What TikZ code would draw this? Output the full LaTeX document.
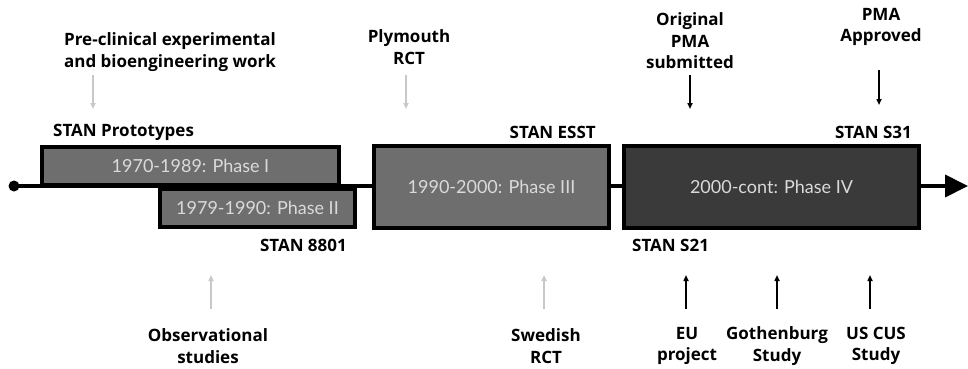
\documentclass[tikz,border=0pt]{standalone}
\usepackage{fontspec}
\setmainfont{Lato}
\newfontfamily\lblfont{Open Sans}
\usetikzlibrary{arrows.meta}
\definecolor{lightarr}{HTML}{C8C8C8}
\definecolor{phasegray}{HTML}{6E6E6E}
\definecolor{phasedark}{HTML}{3A3A3A}
\definecolor{phasetext}{HTML}{DADADA}
\tikzset{
  lbl/.style={font=\lblfont\bfseries\fontsize{17}{21.5}\selectfont, align=center, inner sep=0pt, text=black},
  phasebox/.style={draw=black, line width=4pt, fill=phasegray, inner sep=0pt, text=phasetext, font=\fontsize{18}{20}\selectfont},
  lightarrow/.style={draw=lightarr, line width=1.5pt, -{Triangle[length=6pt,width=5pt]}},
  darkarrow/.style={draw=black, line width=1.5pt, -{Triangle[length=6pt,width=5pt]}},
}
\begin{document}
\begin{tikzpicture}[x=1pt,y=-1pt]
\useasboundingbox (0,0) rectangle (968,369);
% timeline
\coordinate (tstart) at (14,186);
\coordinate (tend) at (968,186);
\draw[line width=4pt, -{Triangle[length=23pt,width=22pt]}] (tstart) -- (tend);
\fill (tstart) circle (5.5);
% boxes
\node[phasebox, minimum width=297pt, minimum height=38pt] (p1) at (190.5,165.5) {1970-1989: Phase I};
\node[phasebox, minimum width=195pt, minimum height=38pt] (p2) at (257.5,208) {1979-1990: Phase II};
\node[phasebox, minimum width=235pt, minimum height=82pt] (p3) at (491.5,187) {1990-2000: Phase III};
\node[phasebox, fill=phasedark, minimum width=295pt, minimum height=82pt] (p4) at (771.5,187) {2000-cont: Phase IV};
% box labels
\node[lbl, anchor=west] (lproto) at (53,132) {STAN Prototypes};
\node[lbl, anchor=east] (lesst) at (596,132) {STAN ESST};
\node[lbl, anchor=east] (ls31) at (912,132) {STAN S31};
\node[lbl, anchor=east] (l8801) at (347,245) {STAN 8801};
\node[lbl, anchor=west] (ls21) at (632,245) {STAN S21};
% top labels
\node[lbl] (tpre) at (170,52) {Pre-clinical experimental\\and bioengineering work};
\node[lbl] (tply) at (409,47) {Plymouth\\RCT};
\node[lbl] (tpma) at (690,41) {Original\\PMA\\submitted};
\node[lbl] (tapp) at (881,27) {PMA\\Approved};
\coordinate (apre1) at (93,75); \coordinate (apre2) at (93,109);
\coordinate (aply1) at (406,75); \coordinate (aply2) at (406,109);
\coordinate (apma1) at (690,75); \coordinate (apma2) at (690,109);
\coordinate (aapp1) at (879,70); \coordinate (aapp2) at (879,105);
\draw[lightarrow] (apre1) -- (apre2);
\draw[lightarrow] (aply1) -- (aply2);
\draw[darkarrow] (apma1) -- (apma2);
\draw[darkarrow] (aapp1) -- (aapp2);
% bottom labels
\node[lbl] (bobs) at (208,346) {Observational\\studies};
\node[lbl] (bswe) at (546,346) {Swedish\\RCT};
\node[lbl] (beu) at (687,346) {EU\\project};
\node[lbl] (bgot) at (777,346) {Gothenburg\\Study};
\node[lbl] (bus) at (876,346) {US CUS\\Study};
\coordinate (aobs1) at (211,309); \coordinate (aobs2) at (211,275);
\coordinate (aswe1) at (544,309); \coordinate (aswe2) at (544,275);
\coordinate (aeu1) at (686,309); \coordinate (aeu2) at (686,275);
\coordinate (agot1) at (777,309); \coordinate (agot2) at (777,275);
\coordinate (aus1) at (870,309); \coordinate (aus2) at (870,275);
\draw[lightarrow] (aobs1) -- (aobs2);
\draw[lightarrow] (aswe1) -- (aswe2);
\draw[darkarrow] (aeu1) -- (aeu2);
\draw[darkarrow] (agot1) -- (agot2);
\draw[darkarrow] (aus1) -- (aus2);
\end{tikzpicture}
\end{document}
